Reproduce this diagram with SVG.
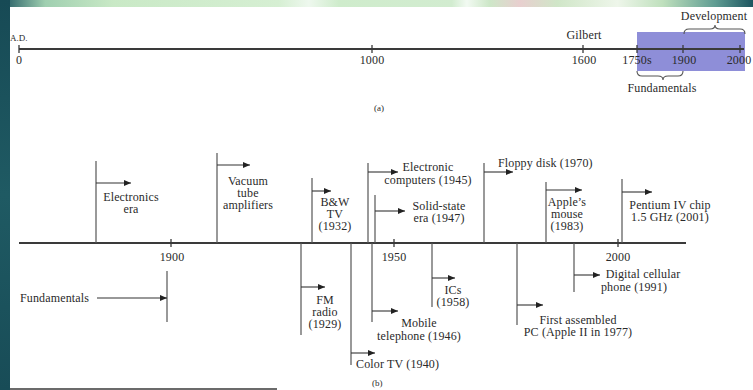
<svg xmlns="http://www.w3.org/2000/svg" width="753" height="390" viewBox="0 0 753 390">
<defs>
<linearGradient id="topg" x1="0" y1="0" x2="1" y2="0">
<stop offset="0" stop-color="#1d5560"/>
<stop offset="0.06" stop-color="#9fcfb0"/>
<stop offset="0.15" stop-color="#c9e9c6"/>
<stop offset="0.37" stop-color="#d6efd3"/>
<stop offset="0.41" stop-color="#eef8ee"/>
<stop offset="0.45" stop-color="#cfeccc"/>
<stop offset="0.60" stop-color="#d2ecd0"/>
<stop offset="0.62" stop-color="#f2faf2"/>
<stop offset="0.65" stop-color="#cde7c8"/>
<stop offset="0.69" stop-color="#e8cfcf"/>
<stop offset="0.74" stop-color="#d0e6c8"/>
<stop offset="0.82" stop-color="#eef6ea"/>
<stop offset="0.88" stop-color="#bfe0bd"/>
<stop offset="0.95" stop-color="#5f9c92"/>
<stop offset="1" stop-color="#1d5560"/>
</linearGradient>
<linearGradient id="leftg" x1="0" y1="0" x2="0" y2="1">
<stop offset="0" stop-color="#174a55"/>
<stop offset="0.5" stop-color="#1f5a63"/>
<stop offset="1" stop-color="#184c57"/>
</linearGradient>
<marker id="ah" markerWidth="8" markerHeight="6" refX="7" refY="3" orient="auto" markerUnits="userSpaceOnUse">
<path d="M0,0 L7,3 L0,6 z" fill="#222"/>
</marker>
<style>
text{font-family:"Liberation Serif","Times New Roman",serif;font-size:12px;letter-spacing:0.15px;fill:#2a2a2a}
.m{text-anchor:middle}
.ax{stroke:#3a3a3a;stroke-width:2;fill:none}
.tk{stroke:#3a3a3a;stroke-width:1.3}
.ev{stroke:#555;stroke-width:1.2;fill:none}
.ar{stroke:#333;stroke-width:1.1;fill:none;marker-end:url(#ah)}
.br{stroke:#555;stroke-width:1.1;fill:none}
.sm{font-size:9px;letter-spacing:0}
</style>
</defs>
<rect x="0" y="0" width="753" height="390" fill="#ffffff"/>
<rect x="0" y="0" width="753" height="7" fill="url(#topg)"/>
<rect x="0" y="0" width="10" height="390" fill="url(#leftg)"/>
<line x1="10" y1="389" x2="277" y2="389" stroke="#3a3a3a" stroke-width="1.5"/>

<g id="timeline-a">
<rect x="637" y="32" width="108" height="39" fill="#8e8ed8"/>
<line class="ax" x1="19" y1="49" x2="744" y2="49"/>
<line class="tk" x1="19" y1="45" x2="19" y2="53"/>
<line class="tk" x1="372" y1="45" x2="372" y2="53"/>
<line class="tk" x1="583" y1="45" x2="583" y2="53"/>
<line class="tk" x1="637" y1="45" x2="637" y2="53"/>
<line class="tk" x1="683" y1="45" x2="683" y2="53"/>
<line class="tk" x1="740" y1="45" x2="740" y2="53"/>
<text class="sm" x="10" y="41">A.D.</text>
<text class="m" x="19" y="64">0</text>
<text class="m" x="372" y="64">1000</text>
<text class="m" x="584" y="64">1600</text>
<text class="m" x="637" y="64">1750s</text>
<text class="m" x="684" y="64">1900</text>
<text class="m" x="739" y="64">2000</text>
<text class="m" x="584" y="39">Gilbert</text>
<text x="374" y="111" class="sm">(a)</text>
</g>
<g id="development">
<path class="br" d="M684,34 Q684,29 689,29 L710,29 Q715,29 715,25 Q715,29 720,29 L740,29 Q745,29 745,34"/>
<text class="m" x="714" y="20">Development</text>
</g>
<g id="fundamentals-a">
<path class="br" d="M637,71 Q637,76 642,76 L658,76 Q663,76 663,80 Q663,76 668,76 L678,76 Q683,76 683,71"/>
<text class="m" x="662" y="92">Fundamentals</text>
</g>

<g id="timeline-b">
<line class="ax" x1="19" y1="243" x2="686" y2="243"/>
<line class="tk" x1="171" y1="239" x2="171" y2="247"/>
<line class="tk" x1="394" y1="239" x2="394" y2="247"/>
<line class="tk" x1="618" y1="239" x2="618" y2="247"/>
<text class="m" x="172" y="261">1900</text>
<text class="m" x="394" y="261">1950</text>
<text class="m" x="618" y="261">2000</text>
<text x="372" y="386" class="sm">(b)</text>
</g>

<g id="connectors">
<path class="ev" d="M96,243 V161"/><line class="ar" x1="96" y1="183" x2="131" y2="183"/>
<path class="ev" d="M217,243 V153"/><line class="ar" x1="217" y1="165" x2="250" y2="165"/>
<path class="ev" d="M312,243 V178"/><line class="ar" x1="312" y1="191" x2="331" y2="191"/>
<path class="ev" d="M368,243 V163"/><line class="ar" x1="368" y1="172" x2="398" y2="172"/>
<path class="ev" d="M375,243 V195"/><line class="ar" x1="375" y1="211" x2="405" y2="211"/>
<path class="ev" d="M484,243 V163"/><line class="ar" x1="484" y1="172" x2="513" y2="172"/>
<path class="ev" d="M546,243 V182"/><line class="ar" x1="546" y1="190" x2="582" y2="190"/>
<path class="ev" d="M622,243 V179"/><line class="ar" x1="622" y1="192" x2="652" y2="192"/>
<path class="ev" d="M167,271 V322"/><line class="ar" x1="97" y1="298" x2="167" y2="298"/>
<path class="ev" d="M301,243 V335"/><line class="ar" x1="301" y1="287" x2="325" y2="287"/>
<path class="ev" d="M351,243 V365"/><line class="ar" x1="351" y1="353" x2="375" y2="353"/>
<path class="ev" d="M372,243 V322"/><line class="ar" x1="372" y1="311" x2="398" y2="311"/>
<path class="ev" d="M432,243 V307"/><line class="ar" x1="432" y1="278" x2="455" y2="278"/>
<path class="ev" d="M517,243 V325"/><line class="ar" x1="517" y1="305" x2="543" y2="305"/>
<path class="ev" d="M574,243 V292"/><line class="ar" x1="574" y1="275" x2="600" y2="275"/>
</g>

<g id="electronics-era"><text class="m" x="131" y="201">Electronics<tspan x="131" y="213">era</tspan></text></g>
<g id="vacuum-tube"><text class="m" x="248" y="185">Vacuum<tspan x="248" y="197">tube</tspan><tspan x="248" y="209">amplifiers</tspan></text></g>
<g id="bw-tv"><text class="m" x="335" y="206">B&amp;W<tspan x="335" y="218">TV</tspan><tspan x="335" y="230">(1932)</tspan></text></g>
<g id="electronic-computers"><text class="m" x="428" y="171">Electronic<tspan x="428" y="184">computers (1945)</tspan></text></g>
<g id="solid-state"><text class="m" x="439" y="210">Solid-state<tspan x="439" y="222">era (1947)</tspan></text></g>
<g id="floppy-disk"><text x="498" y="167">Floppy disk (1970)</text></g>
<g id="apple-mouse"><text class="m" x="567" y="206">Apple’s<tspan x="567" y="218">mouse</tspan><tspan x="567" y="230">(1983)</tspan></text></g>
<g id="pentium"><text class="m" x="670" y="209">Pentium IV chip<tspan x="670" y="221">1.5 GHz (2001)</tspan></text></g>
<g id="fundamentals-b"><text x="20" y="302">Fundamentals</text></g>
<g id="fm-radio"><text class="m" x="325" y="304">FM<tspan x="325" y="316">radio</tspan><tspan x="325" y="328">(1929)</tspan></text></g>
<g id="color-tv"><text x="356" y="368">Color TV (1940)</text></g>
<g id="mobile-telephone"><text class="m" x="419" y="327">Mobile<tspan x="419" y="340">telephone (1946)</tspan></text></g>
<g id="ics"><text class="m" x="453" y="294">ICs<tspan x="453" y="306">(1958)</tspan></text></g>
<g id="first-pc"><text class="m" x="578" y="324">First assembled<tspan x="578" y="336">PC (Apple II in 1977)</tspan></text></g>
<g id="cellular"><text class="m" x="643" y="278">Digital cellular<tspan x="634" y="291">phone (1991)</tspan></text></g>
</svg>
